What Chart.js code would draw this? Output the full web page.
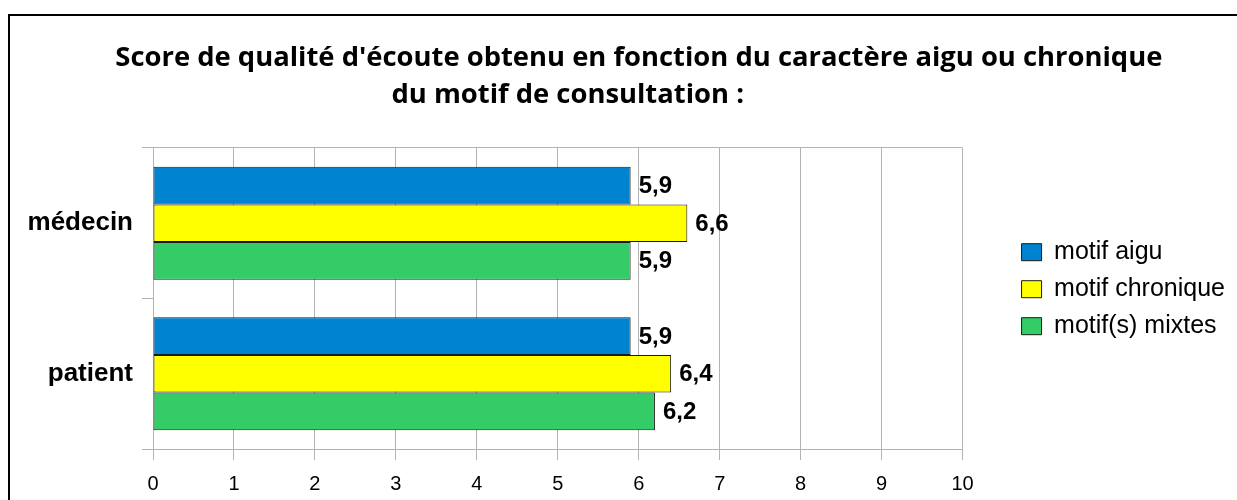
<!DOCTYPE html>
<html>
<head>
<meta charset="utf-8">
<script src="https://cdn.jsdelivr.net/npm/chart.js@4/dist/chart.umd.min.js"></script>
<style>
    body { margin: 0; background: #fff; }
    #wrap { position: relative; width: 1237px; height: 500px; }
    #frame {
        position: absolute; left: 8px; top: 14px; right: 0; bottom: 0;
        border-top: 2px solid #000; border-left: 2px solid #000;
        pointer-events: none;
    }
</style>
</head>
<body>
<div id="wrap">
    <canvas id="chart" width="1237" height="500"></canvas>
    <div id="frame"></div>
</div>
<script>
let categories = ['médecin', 'patient'];
let seriesNames = ['motif aigu', 'motif chronique', 'motif(s) mixtes'];
let aigu = [5.9, 5.9];
let chronique = [6.6, 6.4];
let mixtes = [5.9, 6.2];
let xTicks = [0, 1, 2, 3, 4, 5, 6, 7, 8, 9, 10];

// spaces keep the two lines where the original puts them
let titleLines = [
    '      Score de qualité d\'écoute obtenu en fonction du caractère aigu ou chronique',
    'du motif de consultation :              '
];

let colors = ['#0084d1', '#ffff00', '#34cc66'];
let gridColor = '#b3b3b3';

// draws "5,9" style labels just right of each bar
const valueLabels = {
    id: 'valueLabels',
    afterDatasetsDraw(chart) {
        let ctx = chart.ctx;
        ctx.save();
        ctx.font = 'bold 24px "Liberation Sans", Arial, sans-serif';
        ctx.fillStyle = '#000';
        ctx.textBaseline = 'middle';
        ctx.textAlign = 'left';
        chart.data.datasets.forEach((ds, i) => {
            chart.getDatasetMeta(i).data.forEach((bar, j) => {
                let txt = ds.data[j].toFixed(1).replace('.', ',');
                ctx.fillText(txt, bar.x + 8, bar.y + 1);
            });
        });
        ctx.restore();
    }
};

function main() {
    let values = [aigu, chronique, mixtes];
    let datasets = seriesNames.map((name, i) => ({
        label: name,
        data: values[i],
        backgroundColor: colors[i],
        borderColor: '#1a1a1a',
        borderWidth: 1,
        borderSkipped: false,
        barPercentage: 1.0,
        categoryPercentage: 0.75
    }));

    new Chart(document.getElementById('chart'), {
        type: 'bar',
        data: { labels: categories, datasets: datasets },
        plugins: [valueLabels],
        options: {
            indexAxis: 'y',
            responsive: false,
            animation: false,
            layout: { padding: { left: 0, right: 2, top: 0, bottom: 0 } },
            plugins: {
                title: {
                    display: true,
                    text: titleLines,
                    color: '#000',
                    font: { family: '"Open Sans", sans-serif', size: 27.4, weight: 'bold', lineHeight: 1.35 },
                    padding: { top: 40, bottom: 34 }
                },
                legend: {
                    position: 'right',
                    align: 'center',
                    maxWidth: 400,
                    // empty title only pushes the entries down a bit
                    title: { display: true, text: '', padding: { top: 64, bottom: 0 } },
                    labels: {
                        color: '#000',
                        font: { family: '"Liberation Sans", Arial, sans-serif', size: 25 },
                        boxWidth: 20,
                        boxHeight: 17,
                        padding: 12
                    }
                },
                tooltip: { enabled: false }
            },
            scales: {
                x: {
                    min: 0,
                    max: 10,
                    afterBuildTicks: s => { s.ticks = xTicks.map(v => ({ value: v })); },
                    afterFit: s => { s.height = 51; },
                    grid: { color: gridColor, tickLength: 11, tickColor: gridColor },
                    border: { color: gridColor },
                    ticks: {
                        color: '#000',
                        padding: 12,
                        font: { family: '"Liberation Sans", Arial, sans-serif', size: 20 }
                    }
                },
                y: {
                    afterFit: s => { s.width = 153; },
                    grid: {
                        color: ctx => (ctx.index === 1 ? 'rgba(0,0,0,0)' : gridColor),
                        tickColor: gridColor,
                        tickLength: 11
                    },
                    border: { color: gridColor },
                    ticks: {
                        color: '#000',
                        padding: 9,
                        font: { family: '"Liberation Sans", Arial, sans-serif', size: 26, weight: 'bold' }
                    }
                },
                // empty axis only used as a gap between plot and legend
                yGap: {
                    type: 'linear',
                    position: 'right',
                    grid: { display: false },
                    border: { display: false },
                    ticks: { display: false },
                    afterFit: s => { s.width = 47; }
                }
            }
        }
    });
}

main();
</script>
</body>
</html>
